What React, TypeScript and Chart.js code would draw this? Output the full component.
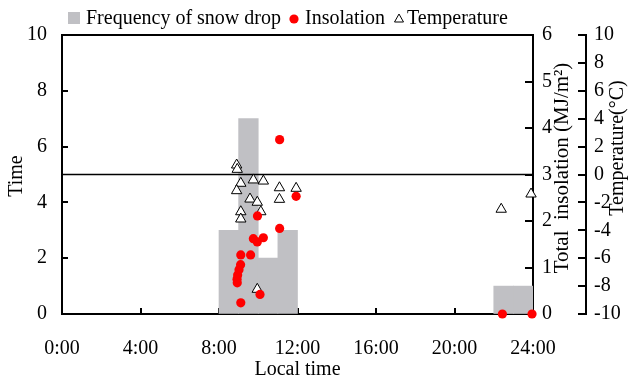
import React, { useEffect, useRef } from 'react';
import { Chart, registerables } from 'chart.js';

Chart.register(...registerables);

const FONT = '"Liberation Serif", "Times New Roman", serif';

// Histogram of snow drop frequency (hourly bins, start hour)
const binStarts = [8, 9, 10, 11, 22, 23];
const binCounts = [3, 7, 2, 3, 1, 1];

// Insolation (MJ/m2) vs local time (hours)
const insolTimes = [11.09, 11.93, 9.96, 11.09, 9.75, 9.95, 10.26, 9.11, 9.61, 9.10, 9.02, 8.95, 8.92, 8.93, 10.09, 9.11, 22.44, 23.95];
const insolValues = [3.75, 2.53, 2.11, 1.84, 1.62, 1.55, 1.64, 1.27, 1.27, 1.06, 0.95, 0.84, 0.75, 0.67, 0.42, 0.24, 0, 0];

// Temperature (°C) vs local time (hours)
const tempTimes = [8.90, 8.93, 9.11, 9.75, 10.26, 8.90, 11.08, 11.93, 11.08, 9.58, 9.95, 9.11, 10.13, 9.11, 9.95, 22.38, 23.90];
const tempValues = [0.68, 0.37, -0.63, -0.39, -0.47, -1.16, -0.95, -0.99, -1.78, -1.76, -1.99, -2.67, -2.67, -3.19, -8.23, -2.49, -1.40];

// Reference line (0 °C)
const refTemp = 0;
const refLineTimes = [0, 24];

// Axis ticks
const xTickHours = [0, 4, 8, 12, 16, 20, 24];
const legendLabels = ['Frequency of snow drop', 'Insolation', 'Temperature'];
const axisTitles = { x: 'Local time', y: 'Time', y1: 'Total  insolation (MJ/m\u00B2)', y2: 'Temperature(\u00B0C)' };

const BAR_COLOR = '#c0c0c4';

const decorPlugin = {
  id: 'decor',
  beforeDatasetsDraw(chart: any) {
    const { ctx, chartArea: a, scales } = chart;
    ctx.save();
    ctx.strokeStyle = '#000';
    ctx.lineWidth = 2;
    const seg = (x1: number, y1: number, x2: number, y2: number) => {
      ctx.beginPath();
      ctx.moveTo(x1, y1);
      ctx.lineTo(x2, y2);
      ctx.stroke();
    };
    // top frame
    seg(a.left - 1, a.top, a.right + 1, a.top);
    // inward ticks
    scales.x.ticks.forEach((t: any) => {
      const px = Math.round(scales.x.getPixelForValue(t.value));
      seg(px, a.bottom, px, a.bottom - 6);
    });
    scales.y.ticks.forEach((t: any) => {
      const py = Math.round(scales.y.getPixelForValue(t.value));
      seg(a.left, py, a.left + 6, py);
    });
    scales.y1.ticks.forEach((t: any) => {
      const py = Math.round(scales.y1.getPixelForValue(t.value));
      seg(a.right, py, a.right - 8, py);
    });
    const l2 = scales.y2.left;
    scales.y2.ticks.forEach((t: any) => {
      const py = Math.round(scales.y2.getPixelForValue(t.value));
      seg(l2, py, l2 - 8, py);
    });
    ctx.restore();
  },
  afterDraw(chart: any) {
    const { ctx, chartArea: a } = chart;
    ctx.save();
    ctx.fillStyle = '#000';
    ctx.font = `20px ${FONT}`;
    ctx.textBaseline = 'middle';
    ctx.textAlign = 'center';
    // axis titles
    ctx.fillText(axisTitles.x, (a.left + a.right) / 2, 370);
    const rot = (text: string, x: number, y: number, size = 20) => {
      ctx.save();
      ctx.font = `${size}px ${FONT}`;
      ctx.translate(x, y);
      ctx.rotate(-Math.PI / 2);
      ctx.fillText(text, 0, 0);
      ctx.restore();
    };
    rot(axisTitles.y, 17, 176);
    rot(axisTitles.y1, 562, 168, 21);
    rot(axisTitles.y2, 618, 148);

    // legend
    const ly = 18;
    ctx.textAlign = 'left';
    ctx.fillStyle = BAR_COLOR;
    ctx.fillRect(68, ly - 6, 12, 12);
    ctx.fillStyle = '#000';
    ctx.fillText(legendLabels[0], 86, ly + 1);
    ctx.fillStyle = '#ff0000';
    ctx.beginPath();
    ctx.arc(294, ly + 1, 4.6, 0, Math.PI * 2);
    ctx.fill();
    ctx.fillStyle = '#000';
    ctx.fillText(legendLabels[1], 305, ly + 1);
    ctx.strokeStyle = '#000';
    ctx.lineWidth = 1;
    ctx.beginPath();
    ctx.moveTo(399, ly - 4);
    ctx.lineTo(403.5, ly + 4);
    ctx.lineTo(394.5, ly + 4);
    ctx.closePath();
    ctx.stroke();
    ctx.fillText(legendLabels[2], 407, ly + 1);
    ctx.restore();
  },
};

export default function App() {
  const ref = useRef<HTMLCanvasElement | null>(null);

  useEffect(() => {
    document.body.style.margin = '0';
    const canvas = ref.current;
    if (!canvas) return;
    const tickFont = { family: FONT, size: 20 };
    const axisBase = {
      grid: { display: true, drawOnChartArea: false, drawTicks: false },
      border: { display: true, color: '#000', width: 2 },
    };
    const chart = new Chart(canvas, {
      type: 'scatter',
      data: {
        datasets: [
          {
            type: 'scatter',
            label: legendLabels[1],
            data: insolTimes.map((t, i) => ({ x: t, y: insolValues[i] })),
            pointStyle: 'circle',
            pointRadius: 4.6,
            backgroundColor: '#ff0000',
            borderColor: '#ff0000',
            borderWidth: 0,
            xAxisID: 'x',
            yAxisID: 'y1',
            order: 0,
            clip: false,
          } as any,
          {
            type: 'scatter',
            label: legendLabels[2],
            data: tempTimes.map((t, i) => ({ x: t, y: tempValues[i] })),
            pointStyle: 'triangle',
            pointRadius: 6,
            backgroundColor: '#ffffff',
            borderColor: '#000000',
            borderWidth: 1,
            xAxisID: 'x',
            yAxisID: 'y2',
            order: 1,
            clip: false,
          } as any,
          {
            type: 'line',
            label: 'ref',
            data: refLineTimes.map((t) => ({ x: t, y: refTemp })),
            borderColor: '#000',
            borderWidth: 1.5,
            pointRadius: 0,
            xAxisID: 'x',
            yAxisID: 'y2',
            order: 2,
          } as any,
          {
            type: 'bar',
            label: legendLabels[0],
            data: binStarts.map((s, i) => ({ x: s + 0.5, y: binCounts[i] })),
            backgroundColor: BAR_COLOR,
            borderWidth: 0,
            barPercentage: 1,
            categoryPercentage: 1,
            xAxisID: 'x',
            yAxisID: 'y',
            order: 3,
          } as any,
        ],
      },
      options: {
        responsive: false,
        animation: false,
        devicePixelRatio: 1,
        layout: { padding: { top: 35, left: 0, right: 0, bottom: 0 } },
        plugins: { legend: { display: false }, tooltip: { enabled: false } },
        scales: {
          x: {
            type: 'linear',
            position: 'bottom',
            min: 0,
            max: 24,
            offset: false,
            afterFit: (s: any) => { s.height = 68; },
            afterBuildTicks: (s: any) => { s.ticks = xTickHours.map((v) => ({ value: v })); },
            ticks: {
              font: tickFont,
              color: '#000',
              padding: 23,
              maxRotation: 0,
              autoSkip: false,
              callback: (v: any) => `${v}:00`,
            },
            ...axisBase,
          },
          y: {
            type: 'linear',
            position: 'left',
            min: 0,
            max: 10,
            afterFit: (s: any) => { s.width = 62; },
            ticks: { stepSize: 2, font: tickFont, color: '#000', padding: 15 },
            ...axisBase,
          },
          y1: {
            type: 'linear',
            position: 'right',
            min: 0,
            max: 6,
            afterFit: (s: any) => { s.width = 53; },
            ticks: { stepSize: 1, font: tickFont, color: '#000', padding: 9 },
            ...axisBase,
          },
          y2: {
            type: 'linear',
            position: 'right',
            min: -10,
            max: 10,
            afterFit: (s: any) => { s.width = 45; },
            ticks: { stepSize: 2, font: tickFont, color: '#000', padding: 8 },
            ...axisBase,
          },
        },
      } as any,
      plugins: [decorPlugin],
    });
    return () => chart.destroy();
  }, []);

  return (
    <div style={{ width: 631, height: 382 }}>
      <canvas ref={ref} width={631} height={382} style={{ display: 'block' }} />
    </div>
  );
}
